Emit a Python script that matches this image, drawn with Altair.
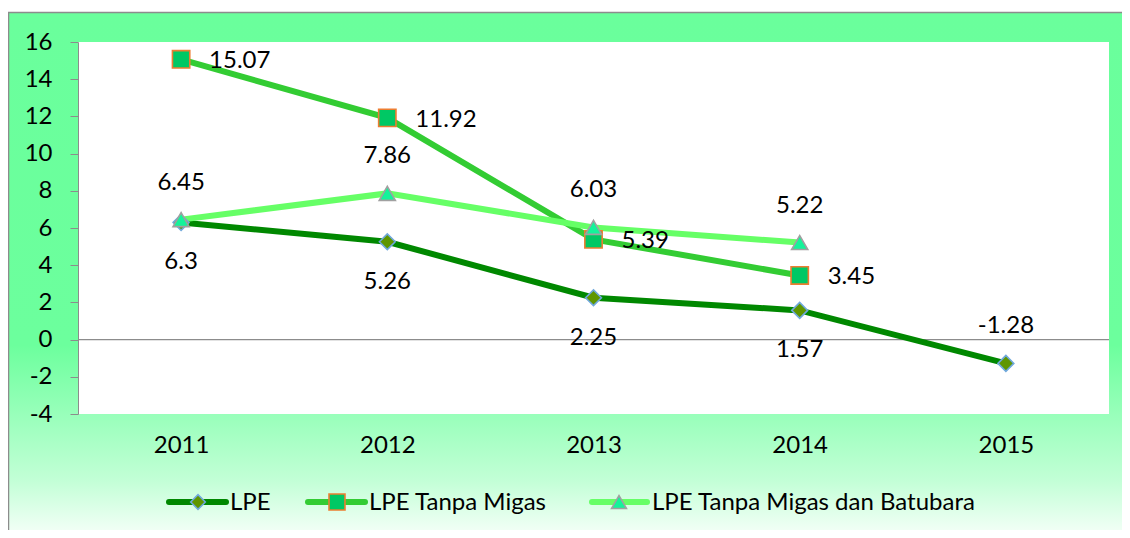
import altair as alt
import pandas as pd

# ---------------- data ----------------
years = ["2011", "2012", "2013", "2014", "2015"]
lpe = [6.3, 5.26, 2.25, 1.57, -1.28]
lpe_tanpa_migas = [15.07, 11.92, 5.39, 3.45]
lpe_tanpa_migas_batubara = [6.45, 7.86, 6.03, 5.22]
lpe_label_pos = ["below", "below", "below", "below", "above"]
series_names = ["LPE", "LPE Tanpa Migas", "LPE Tanpa Migas dan Batubara"]
y_ticks = [-4, -2, 0, 2, 4, 6, 8, 10, 12, 14, 16]

# ---------------- style ----------------
W, H = 1031, 372
PAD = {"left": 70, "top": 34, "right": 13, "bottom": 116}
FONT = "Lato"
FS = 24
GRAY = "#8c8c8c"


def frame(vals, pos=None):
    df = pd.DataFrame({"year": years[: len(vals)], "value": vals})
    df["lbl"] = [f"{v:g}" for v in vals]
    df["pos"] = pos if pos is not None else ["right"] * len(vals)
    return df


df_lpe = frame(lpe, lpe_label_pos)
df_tm = frame(lpe_tanpa_migas)
df_tmb = frame(lpe_tanpa_migas_batubara)

X = alt.X(
    "year:O",
    scale=alt.Scale(type="point", padding=0.5, domain=years),
    axis=alt.Axis(
        title=None, labelAngle=0, domain=False, ticks=False, tickSize=0,
        labelPadding=19, labelFontSize=FS, labelFont=FONT, labelColor="black",
        grid=False, zindex=1,
    ),
)
Y = alt.Y(
    "value:Q",
    scale=alt.Scale(domain=[-4, 16], nice=False, zero=False),
    axis=alt.Axis(
        title=None, values=y_ticks, domainColor=GRAY, tickColor=GRAY,
        tickSize=8, labelPadding=18, labelFontSize=FS, labelFont=FONT,
        labelColor="black", grid=False, labelExpr="'' + datum.value", zindex=1,
    ),
)

one = alt.Data(values=[{}])

bg = alt.Chart(one).mark_rect(
    fill=alt.LinearGradient(
        gradient="linear", x1=0, x2=0, y1=0, y2=1,
        stops=[
            alt.GradientStop(color="#6aff9c", offset=0),
            alt.GradientStop(color="#6cff9d", offset=0.64),
            alt.GradientStop(color="#c2ffd6", offset=0.9),
            alt.GradientStop(color="#f2fff6", offset=1),
        ],
    ),
    stroke=GRAY, strokeWidth=1.5,
).encode(
    x=alt.value(-PAD["left"] + 0.5), x2=alt.value(W + PAD["right"] + 2),
    y=alt.value(-29.5), y2=alt.value(H + PAD["bottom"] + 2),
)

plot_bg = alt.Chart(one).mark_rect(fill="white").encode(
    x=alt.value(0), x2=alt.value(W), y=alt.value(0), y2=alt.value(H)
)

zero_rule = alt.Chart(alt.Data(values=[{"value": 0}])).mark_rule(
    color=GRAY, strokeWidth=1.2
).encode(y=Y)

series = [
    # df, line color, line width, shape, fill, stroke, size
    (df_lpe, "#008800", 6, "diamond", "#5f9600", "#6fa8dc", 250),
    (df_tm, "#33cc33", 6, "square", "#00c864", "#ed7d31", 300),
    (df_tmb, "#66ff66", 6, "triangle-up", "#14f39a", "#a0a0a0", 260),
]

layers = [bg, plot_bg, zero_rule]
for df, lc, lw, shape, fill, stroke, size in series:
    base = alt.Chart(df).encode(x=X, y=Y)
    layers.append(base.mark_line(color=lc, strokeWidth=lw))
for df, lc, lw, shape, fill, stroke, size in series:
    base = alt.Chart(df).encode(x=X, y=Y)
    layers.append(
        base.mark_point(shape=shape, filled=True, fill=fill, stroke=stroke,
                        strokeWidth=1.6, size=size, opacity=1, fillOpacity=1)
    )

txt = dict(fontSize=FS, font=FONT, color="black", baseline="middle")
lpe_base = alt.Chart(df_lpe).encode(x=X, y=Y, text="lbl:N")
layers.append(lpe_base.transform_filter("datum.pos == 'below'").mark_text(dy=40, **txt))
layers.append(lpe_base.transform_filter("datum.pos == 'above'").mark_text(dy=-37, **txt))
layers.append(alt.Chart(df_tm).encode(x=X, y=Y, text="lbl:N").mark_text(dx=28, dy=2, align="left", **txt))
layers.append(alt.Chart(df_tmb).encode(x=X, y=Y, text="lbl:N").mark_text(dy=-37, **txt))

# ---------------- legend ----------------
leg_y = 460
leg_line_x = [(91, 148), (230, 287), (514, 569)]
leg_marker_x = [120, 259, 541]
leg_text_x = [152, 291, 574]
for i, (df, lc, lw, shape, fill, stroke, size) in enumerate(series):
    layers.append(
        alt.Chart(one).mark_rule(color=lc, strokeWidth=lw, strokeCap="round").encode(
            x=alt.value(leg_line_x[i][0]), x2=alt.value(leg_line_x[i][1]), y=alt.value(leg_y)
        )
    )
    layers.append(
        alt.Chart(one).mark_point(shape=shape, filled=True, fill=fill, stroke=stroke,
                                  strokeWidth=1.6, size=size * 0.85, opacity=1).encode(
            x=alt.value(leg_marker_x[i]), y=alt.value(leg_y)
        )
    )
    layers.append(
        alt.Chart(one).mark_text(align="left", **txt).encode(
            x=alt.value(leg_text_x[i]), y=alt.value(leg_y + 1), text=alt.value(series_names[i])
        )
    )

chart = alt.layer(*layers).properties(
    width=W, height=H,
    padding=PAD,
    autosize=alt.AutoSizeParams(type="none"),
).configure_view(stroke=None).configure(background="white")

chart.save("out.html", embed_options={"renderer": "svg", "actions": False})
